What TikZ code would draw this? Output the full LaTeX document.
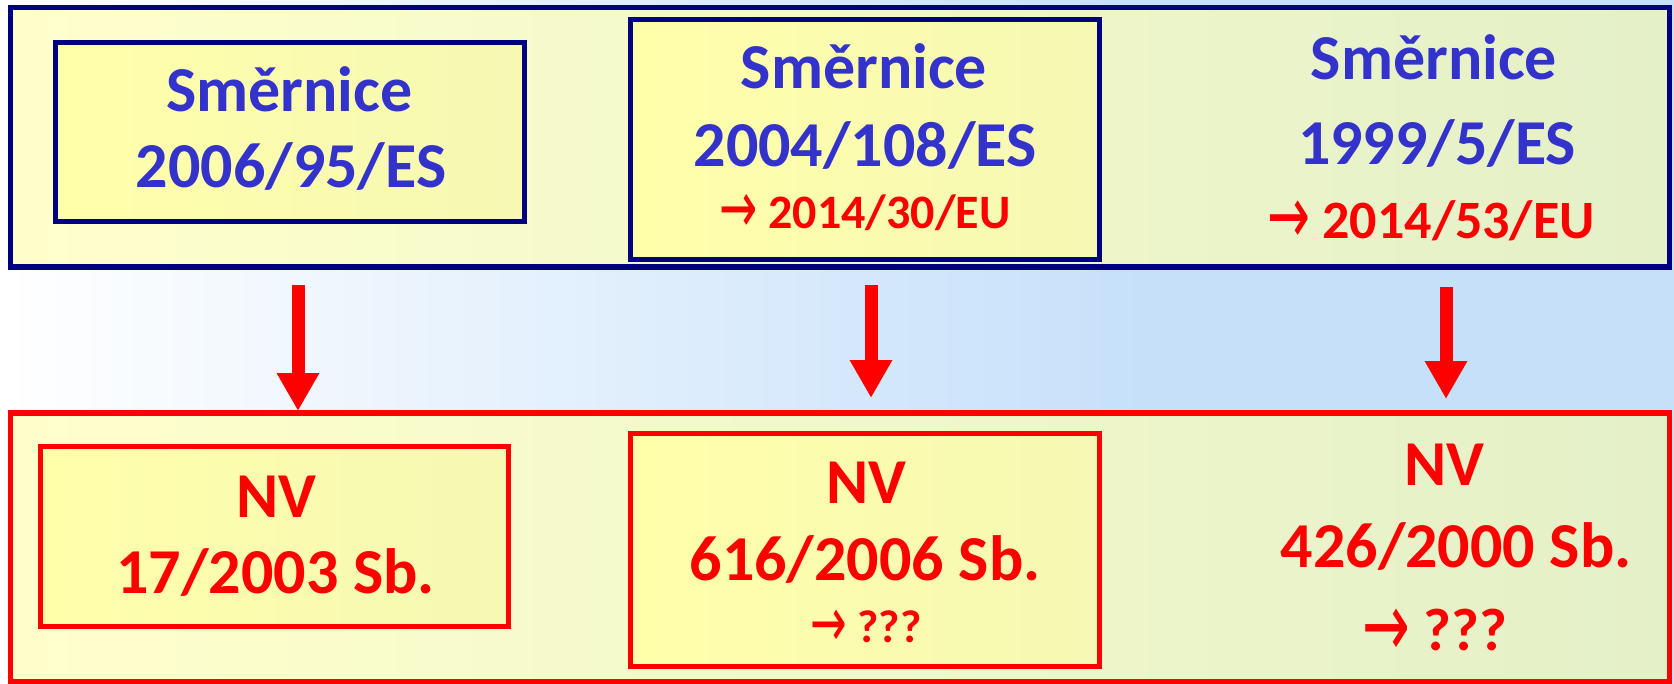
\documentclass[tikz,border=0pt]{standalone}
\usepackage{fontspec}
\usepackage{graphicx}
\setmainfont{Carlito}
\newfontfamily\arrfont{DejaVu Sans}
\usetikzlibrary{arrows.meta}
\definecolor{navy}{RGB}{0,0,128}
\definecolor{txtblue}{RGB}{51,51,204}
\definecolor{pred}{RGB}{255,0,0}
\definecolor{bgblue}{RGB}{198,224,250}
\definecolor{oL}{RGB}{255,255,204}
\definecolor{oM}{RGB}{248,248,194}
\definecolor{oR}{RGB}{228,240,200}
\definecolor{iL}{RGB}{255,255,170}
\definecolor{iR}{RGB}{246,248,180}
\newcommand{\fsz}[1]{\fontsize{#1}{#1}\selectfont}
\newcommand{\arr}{\raisebox{-0.1em}{\scalebox{0.95}[1.5]{\arrfont\mdseries →}}}
\begin{document}
\begin{tikzpicture}[x=0.5pt,y=-0.5pt,
  bigbox/.style={line width=2.6pt, left color=oL, middle color=oM, right color=oR, inner sep=0pt, outer sep=0pt},
  smallbox/.style={line width=2.6pt, left color=iL, right color=iR, inner sep=0pt, outer sep=0pt},
  ln/.style={anchor=base, inner sep=0pt, font=\bfseries\fsz{32pt}},
  blueln/.style={ln, text=txtblue},
  redln/.style={ln, text=pred},
  conn/.style={draw=pred, line width=6.5pt, -{Triangle[width=20pt,length=19pt]}}
]
\useasboundingbox (0,0) rectangle (1674,684);
% background
\fill[left color=white, right color=bgblue] (0,0) rectangle (1151,684);
\fill[bgblue] (1150,0) rectangle (1674,684);

% boxes
\node[bigbox, draw=navy, minimum width=829.5pt, minimum height=129.75pt] (tb) at (840,137.25) {};
\node[smallbox, draw=navy, minimum width=234.5pt, minimum height=89.5pt] (t1) at (290,132) {};
\node[smallbox, draw=navy, minimum width=234.5pt, minimum height=120pt] (t2) at (865,139.5) {};

\node[bigbox, draw=pred, minimum width=829.5pt, minimum height=134.25pt] (bb) at (840,547.25) {};
\node[smallbox, draw=pred, minimum width=234pt, minimum height=90pt] (b1) at (274.5,536.5) {};
\node[smallbox, draw=pred, minimum width=234.5pt, minimum height=116.5pt] (b2) at (865,550) {};

% texts
\node[blueln] (t1a) at (289.5,112) {Směrnice};
\node[blueln] (t1b) at (291,188) {2006/95/ES};
\node[blueln] (t2a) at (864,89) {Směrnice};
\node[blueln] (t2b) at (865,167) {2004/108/ES};
\node[redln, font=\bfseries\fsz{24pt}] (t2c) at (865,228) {\arr\ 2014/30/EU};
\node[blueln] (t3a) at (1434,80) {Směrnice};
\node[blueln] (t3b) at (1437,165) {1999/5/ES};
\node[redln, font=\bfseries\fsz{27pt}] (t3c) at (1431,238) {\arr\ 2014/53/EU};

\node[redln] (b1a) at (276,517) {NV};
\node[redln] (b1b) at (275.5,593) {17/2003 Sb.};
\node[redln] (b2a) at (866,503) {NV};
\node[redln] (b2b) at (865,580) {616/2006 Sb.};
\node[redln, font=\bfseries\fsz{23pt}] (b2c) at (866,642) {\arr\ ???};
\node[redln] (b3a) at (1444,485) {NV};
\node[redln] (b3b) at (1456,567) {426/2000 Sb.};
\node[redln, font=\bfseries\fsz{30pt}] (b3c) at (1435,650) {\arr\ ???};

% arrows
\coordinate (a1s) at (298,285);
\coordinate (a1e) at (298,411);
\coordinate (a2s) at (871,285);
\coordinate (a2e) at (871,398);
\coordinate (a3s) at (1446,287);
\coordinate (a3e) at (1446,399);
\draw[conn] (a1s) -- (a1e);
\draw[conn] (a2s) -- (a2e);
\draw[conn] (a3s) -- (a3e);
\end{tikzpicture}
\end{document}
